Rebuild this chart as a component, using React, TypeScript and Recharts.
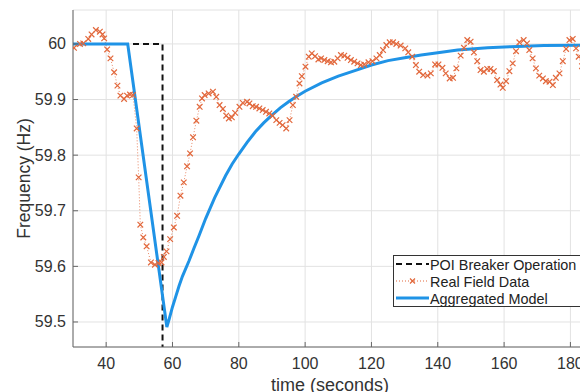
import React from "react";
import { CartesianGrid, ComposedChart, Line, XAxis, YAxis } from "recharts";

// POI breaker: nominal until the trip, then straight down
const breakerTimes = [30, 57, 57];
const breakerFreq = [60, 60, 59.4];

// real field measurements (roughly one sample per second)
const fieldTimes = [
  30.3, 32.1, 33.1, 34.6, 35.6, 36.9, 38.1, 38.9, 39.4, 40.3, 41.3, 42.4, 43.4, 44.3, 45.4,
  46.3, 47.2, 48.1, 49.2, 49.8, 50.3, 51.2, 52.2, 53.5, 54.7, 55.8, 56.7, 57.4, 58.2, 59.3,
  60.4, 61.4, 62.4, 63.4, 64.4, 65.3, 66.2, 67.2, 68.2, 68.9, 69.7, 70.9, 72.2, 73.2, 74.2,
  75.2, 76.2, 77.0, 77.9, 78.9, 80.2, 81.2, 82.5, 83.2, 84.2, 85.2, 86.2, 87.2, 88.2, 89.2,
  90.2, 91.3, 92.3, 93.2, 94.3, 95.3, 96.3, 97.3, 98.3, 99.0, 100.1, 101.1, 102.0, 103.0,
  104.0, 104.8, 105.8, 106.8, 107.8, 108.8, 109.8, 110.8, 111.8, 112.8, 113.8, 114.8, 115.8,
  116.8, 117.8, 119.1, 120.3, 121.5, 122.5, 123.5, 124.5, 125.5, 126.5, 127.5, 128.8, 130.2,
  131.1, 132.3, 133.4, 134.4, 135.6, 136.9, 137.9, 139.2, 140.2, 141.4, 142.4, 143.6, 144.6,
  145.6, 146.9, 147.9, 148.9, 149.9, 150.9, 151.9, 152.9, 153.9, 154.9, 155.9, 156.9, 157.9,
  158.9, 159.6, 160.6, 161.6, 162.6, 163.6, 164.6, 165.9, 166.9, 167.6, 168.6, 169.6, 170.6,
  171.7, 172.6, 173.7, 174.7, 175.6, 176.7, 177.7, 178.7, 179.7, 180.7, 181.7, 182.5, 183.5,
];
const fieldFreq = [
  59.993, 60.0, 60.001, 60.009, 60.017, 60.025, 60.022, 60.017, 60.01, 59.99, 59.974, 59.949,
  59.925, 59.907, 59.901, 59.907, 59.909, 59.908, 59.848, 59.76, 59.675, 59.652, 59.636,
  59.607, 59.603, 59.606, 59.607, 59.617, 59.627, 59.649, 59.67, 59.691, 59.727, 59.751,
  59.78, 59.803, 59.832, 59.862, 59.887, 59.902, 59.908, 59.911, 59.914, 59.905, 59.89,
  59.883, 59.871, 59.866, 59.868, 59.876, 59.887, 59.894, 59.896, 59.893, 59.888, 59.887,
  59.884, 59.881, 59.878, 59.875, 59.871, 59.863, 59.858, 59.854, 59.848, 59.863, 59.89,
  59.905, 59.929, 59.942, 59.959, 59.977, 59.983, 59.978, 59.972, 59.974, 59.971, 59.969,
  59.967, 59.968, 59.974, 59.98, 59.979, 59.975, 59.971, 59.968, 59.965, 59.962, 59.963,
  59.967, 59.969, 59.974, 59.98, 59.989, 59.998, 60.003, 60.003, 60.0, 59.997, 59.992,
  59.985, 59.977, 59.962, 59.95, 59.944, 59.943, 59.947, 59.963, 59.963, 59.957, 59.947,
  59.938, 59.939, 59.956, 59.979, 59.993, 60.007, 60.004, 59.985, 59.969, 59.953, 59.95,
  59.955, 59.955, 59.951, 59.935, 59.927, 59.921, 59.933, 59.951, 59.965, 59.987, 60.003,
  60.007, 60.001, 59.989, 59.974, 59.956, 59.943, 59.938, 59.933, 59.932, 59.926, 59.939,
  59.947, 59.969, 59.991, 60.007, 60.009, 59.992, 59.977, 59.96,
];

// aggregated model response
const modelTimes = [
  30, 46.5, 58.3, 59, 60, 61, 62, 63, 65, 66.5, 68, 70, 72.7, 74, 76, 78, 80, 82.5, 85, 87.5,
  90, 92.5, 95, 97.5, 100, 105, 110, 115, 120, 125, 130, 135, 140, 146, 155, 162, 172, 185,
];
const modelFreq = [
  60, 60, 59.491, 59.505, 59.527, 59.546, 59.565, 59.582, 59.61, 59.633, 59.655, 59.686,
  59.723, 59.739, 59.763, 59.784, 59.802, 59.823, 59.842, 59.858, 59.872, 59.885, 59.896,
  59.906, 59.915, 59.93, 59.942, 59.952, 59.962, 59.97, 59.975, 59.98, 59.984, 59.989,
  59.993, 59.995, 59.997, 59.998,
];

const xTicks = [40, 60, 80, 100, 120, 140, 160, 180];
const yTicks = [59.5, 59.6, 59.7, 59.8, 59.9, 60];

const toPoints = (ts: number[], fs: number[]) => ts.map((t, i) => ({ t, f: fs[i] }));
const breakerData = toPoints(breakerTimes, breakerFreq);
const fieldData = toPoints(fieldTimes, fieldFreq);
const modelData = toPoints(modelTimes, modelFreq);

const FONT = '"Liberation Sans", Arial, sans-serif';
const AXIS = "#666";
const TEXT = "#333";
const ORANGE = "#e2683c";
const BLUE = "#1f93e6";

const BottomTick = ({ x, y, payload }: any) => (
  <g>
    <line x1={x} x2={x} y1={y} y2={y - 5} stroke={AXIS} />
    <text x={x} y={y + 22} textAnchor="middle" fontSize={16} fill={TEXT} fontFamily={FONT}>
      {payload.value}
    </text>
  </g>
);

const TopTick = ({ x, y }: any) => <line x1={x} x2={x} y1={y} y2={y + 5} stroke={AXIS} />;

const LeftTick = ({ x, y, payload }: any) => (
  <g>
    <line x1={x} x2={x + 5} y1={y} y2={y} stroke={AXIS} />
    <text x={x - 7} y={y + 5.5} textAnchor="end" fontSize={16} fill={TEXT} fontFamily={FONT}>
      {String(payload.value)}
    </text>
  </g>
);

const Cross = (p: any) => {
  const { cx, cy, index } = p;
  if (cx == null || cy == null) return <g key={`x-${index}`} />;
  const s = 2.8;
  return (
    <path
      key={`x-${index}`}
      d={`M${cx - s},${cy - s}L${cx + s},${cy + s}M${cx - s},${cy + s}L${cx + s},${cy - s}`}
      stroke={ORANGE}
      strokeWidth={1.2}
      fill="none"
    />
  );
};

const LegendBox = () => (
  <div
    style={{
      position: "absolute",
      left: 393,
      top: 255,
      width: 200,
      height: 52,
      border: "1px solid #333",
      background: "#fff",
      boxSizing: "border-box",
    }}
  >
    <svg width={200} height={52} style={{ display: "block" }}>
      <line x1={2} x2={35} y1={8} y2={8} stroke="#111" strokeWidth={2} strokeDasharray="6 4" />
      <line x1={2} x2={35} y1={25} y2={25} stroke={ORANGE} strokeWidth={1} strokeDasharray="1 2" />
      <path d="M16,22.5L21,27.5M16,27.5L21,22.5" stroke={ORANGE} strokeWidth={1.2} />
      <line x1={2} x2={35} y1={42} y2={42} stroke={BLUE} strokeWidth={3} />
      <g fontFamily={FONT} fontSize={14.4} fill="#222">
        <text x={36} y={13.5}>POI Breaker Operation</text>
        <text x={36} y={30.5}>Real Field Data</text>
        <text x={36} y={47.5}>Aggregated Model</text>
      </g>
    </svg>
  </div>
);

export default function App() {
  return (
    <div
      style={{
        position: "absolute",
        left: 0,
        top: 0,
        width: 580,
        height: 392,
        overflow: "hidden",
        background: "#fff",
      }}
    >
      <ComposedChart width={600} height={392} margin={{ top: 10, right: 13, bottom: 0, left: 0 }}>
        <CartesianGrid stroke="#e2e2e2" />
        <XAxis
          dataKey="t"
          type="number"
          domain={[30, 185]}
          ticks={xTicks}
          interval={0}
          allowDataOverflow
          height={45}
          stroke={AXIS}
          tickSize={0}
          tickMargin={0}
          tick={BottomTick}
          label={{
            value: "time (seconds)",
            position: "insideBottom",
            offset: 1,
            fontSize: 18,
            fill: TEXT,
            fontFamily: FONT,
          }}
        />
        <XAxis
          xAxisId="top"
          dataKey="t"
          type="number"
          orientation="top"
          domain={[30, 185]}
          ticks={xTicks}
          interval={0}
          height={0}
          stroke={AXIS}
          tickSize={0}
          tickMargin={0}
          tick={TopTick}
        />
        <YAxis
          type="number"
          domain={[59.455, 60.061]}
          ticks={yTicks}
          interval={0}
          allowDataOverflow
          width={73}
          stroke={AXIS}
          tickSize={0}
          tickMargin={0}
          tick={LeftTick}
          label={({ viewBox }: any) => (
            <text
              x={24}
              y={viewBox.y + viewBox.height / 2}
              transform={`rotate(-90, 24, ${viewBox.y + viewBox.height / 2})`}
              textAnchor="middle"
              dominantBaseline="central"
              fontSize={17.5}
              fill={TEXT}
              fontFamily={FONT}
            >
              Frequency (Hz)
            </text>
          )}
        />
        <Line
          data={breakerData}
          dataKey="f"
          type="linear"
          stroke="#111"
          strokeWidth={2}
          strokeDasharray="6 4"
          dot={false}
          activeDot={false}
          isAnimationActive={false}
        />
        <Line
          data={fieldData}
          dataKey="f"
          type="linear"
          stroke={ORANGE}
          strokeWidth={1}
          strokeDasharray="1 2"
          strokeOpacity={0.8}
          dot={Cross}
          activeDot={false}
          isAnimationActive={false}
        />
        <Line
          data={modelData}
          dataKey="f"
          type="linear"
          stroke={BLUE}
          strokeWidth={3}
          dot={false}
          activeDot={false}
          isAnimationActive={false}
        />
      </ComposedChart>
      <LegendBox />
    </div>
  );
}
